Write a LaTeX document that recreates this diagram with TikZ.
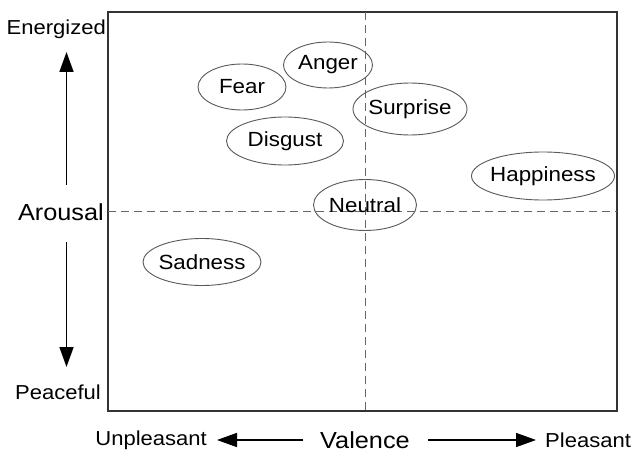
\documentclass[tikz,border=0pt]{standalone}
\usepackage{fontspec}
\setmainfont{Liberation Sans}[FakeStretch=1.09]
\usetikzlibrary{shapes.geometric,arrows.meta}
\begin{document}
\begin{tikzpicture}[x=1pt,y=-1pt,
  emo/.style={ellipse,draw=black!65,line width=0.9pt,inner sep=0pt,font=\fontsize{20.5}{22}\selectfont},
  lbl/.style={inner sep=0pt,font=\fontsize{20.2}{22}\selectfont},
  big/.style={inner sep=0pt,font=\fontsize{23.2}{25}\selectfont},
  axisarrow/.style={line width=1.6pt,-{Triangle[length=20pt,width=14pt]}},
  guide/.style={draw=black!60,line width=1pt,dash pattern=on 8pt off 5pt}]
\useasboundingbox (0,0) rectangle (633,452);
\fill[white] (0,0) rectangle (633,452);
% frame
\node[draw=black!80,line width=1.8pt,minimum width=509pt,minimum height=399pt,inner sep=0pt] (frame) at (362.5,211.5) {};
% dashed guides
\coordinate (vtop) at (365,12);
\coordinate (vbot) at (365,411);
\coordinate (hleft) at (108,211);
\coordinate (hright) at (617,211);
\draw[guide] (vtop) -- (vbot);
\draw[guide] (hleft) -- (hright);
% emotions
\node[emo,minimum width=88pt,minimum height=46pt] (fear) at (242,87) {\makebox[0pt]{Fear}};
\node[emo,minimum width=89pt,minimum height=46pt] (anger) at (328,65) {\makebox[0pt]{Anger}};
\node[emo,minimum width=117pt,minimum height=48pt] (disgust) at (285,141) {\makebox[0pt]{Disgust}};
\node[emo,minimum width=114pt,minimum height=52pt] (surprise) at (410,109) {\makebox[0pt]{Surprise}};
\node[emo,minimum width=143pt,minimum height=48pt] (happiness) at (543,176) {\makebox[0pt]{Happiness}};
\node[emo,minimum width=103pt,minimum height=51pt] (neutral) at (365,205) {\makebox[0pt]{Neutral}};
\node[emo,minimum width=118pt,minimum height=47pt] (sadness) at (202,262) {\makebox[0pt]{Sadness}};
% vertical axis labels
\node[lbl,anchor=east] (energized) at (106,29) {Energized};
\node[big,anchor=east] (arousal) at (104,212) {Arousal};
\node[lbl,anchor=east] (peaceful) at (101,392) {Peaceful};
\coordinate (upstart) at (66.5,185);
\coordinate (uptip) at (66.5,52);
\coordinate (dnstart) at (66.5,242);
\coordinate (dntip) at (66.5,367);
\draw[axisarrow] (upstart) -- (uptip);
\draw[axisarrow] (dnstart) -- (dntip);
% horizontal axis labels
\node[lbl,anchor=east] (unpleasant) at (207,440) {Unpleasant};
\node[big] (valence) at (365,440) {Valence};
\node[lbl,anchor=west] (pleasant) at (545,440) {Pleasant};
\coordinate (lstart) at (303,440);
\coordinate (ltip) at (217,440);
\coordinate (rstart) at (428,440);
\coordinate (rtip) at (536,440);
\draw[axisarrow] (lstart) -- (ltip);
\draw[axisarrow] (rstart) -- (rtip);
\end{tikzpicture}
\end{document}
